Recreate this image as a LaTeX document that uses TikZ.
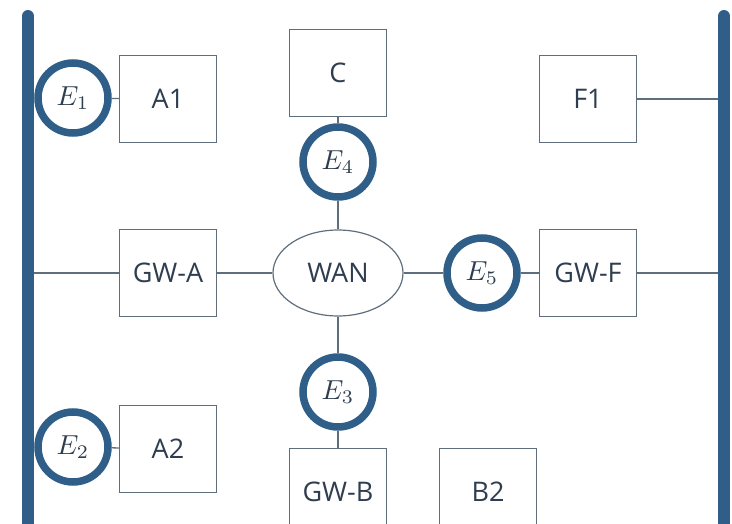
\documentclass[tikz,border=0pt]{standalone}
\usepackage{fontspec}
\setmainfont{Open Sans}
\usetikzlibrary{shapes.geometric}
\definecolor{barblue}{HTML}{2F5F88}
\definecolor{txt}{HTML}{2E3D4F}
\definecolor{edge}{HTML}{5E6E7C}
\newcommand{\ename}[1]{\scalebox{2.75}{\fontsize{10}{12}\selectfont$E_{#1}$}}
\tikzset{
  box/.style={draw=edge, line width=1.3pt, minimum width=97pt, minimum height=87pt, inner sep=0pt, text=txt, font=\fontsize{27}{32}\selectfont},
  ring/.style={circle, draw=barblue, line width=7.5pt, minimum size=70pt, inner sep=0pt, text=txt},
  wan/.style={ellipse, draw=edge, line width=1.2pt, minimum width=130pt, minimum height=86pt, inner sep=0pt, text=txt, font=\fontsize{27}{32}\selectfont},
  bar/.style={draw=barblue, line width=12pt, line cap=round},
  link/.style={draw=edge, line width=1.3pt}
}
\begin{document}
\begin{tikzpicture}[x=1pt,y=-1pt]
\useasboundingbox (0,0) rectangle (732,524);
% bars
\coordinate (LT) at (28,16);
\coordinate (LB) at (28,560);
\coordinate (RT) at (724,16);
\coordinate (RB) at (724,560);
\draw[bar] (LT) -- (LB);
\draw[bar] (RT) -- (RB);
\coordinate (Lmid) at (34,273);
\coordinate (Rtop) at (718,99);
\coordinate (Rmid) at (718,273);
% nodes
\node[box] (A1) at (168,99) {A1};
\node[box] (C) at (338,73) {C};
\node[box] (F1) at (588,99) {F1};
\node[box] (GWA) at (168,273) {GW-A};
\node[wan] (WAN) at (338,273) {WAN};
\node[box] (GWF) at (588,273) {GW-F};
\node[box] (A2) at (168,449) {A2};
\node[box] (GWB) at (338,492) {GW-B};
\node[box] (B2) at (488,492) {B2};
\node[ring] (E1) at (73,98) {\ename{1}};
\node[ring] (E2) at (73,447) {\ename{2}};
\node[ring] (E3) at (338,392) {\ename{3}};
\node[ring] (E4) at (338,162) {\ename{4}};
\node[ring] (E5) at (482,273) {\ename{5}};
% links
\draw[link] (E1) -- (A1);
\draw[link] (E2) -- (A2);
\draw[link] (C) -- (E4);
\draw[link] (E4) -- (WAN);
\draw[link] (WAN) -- (E3);
\draw[link] (E3) -- (GWB);
\draw[link] (Lmid) -- (GWA);
\draw[link] (GWA) -- (WAN);
\draw[link] (WAN) -- (E5);
\draw[link] (E5) -- (GWF);
\draw[link] (GWF) -- (Rmid);
\draw[link] (F1) -- (Rtop);
\end{tikzpicture}
\end{document}
